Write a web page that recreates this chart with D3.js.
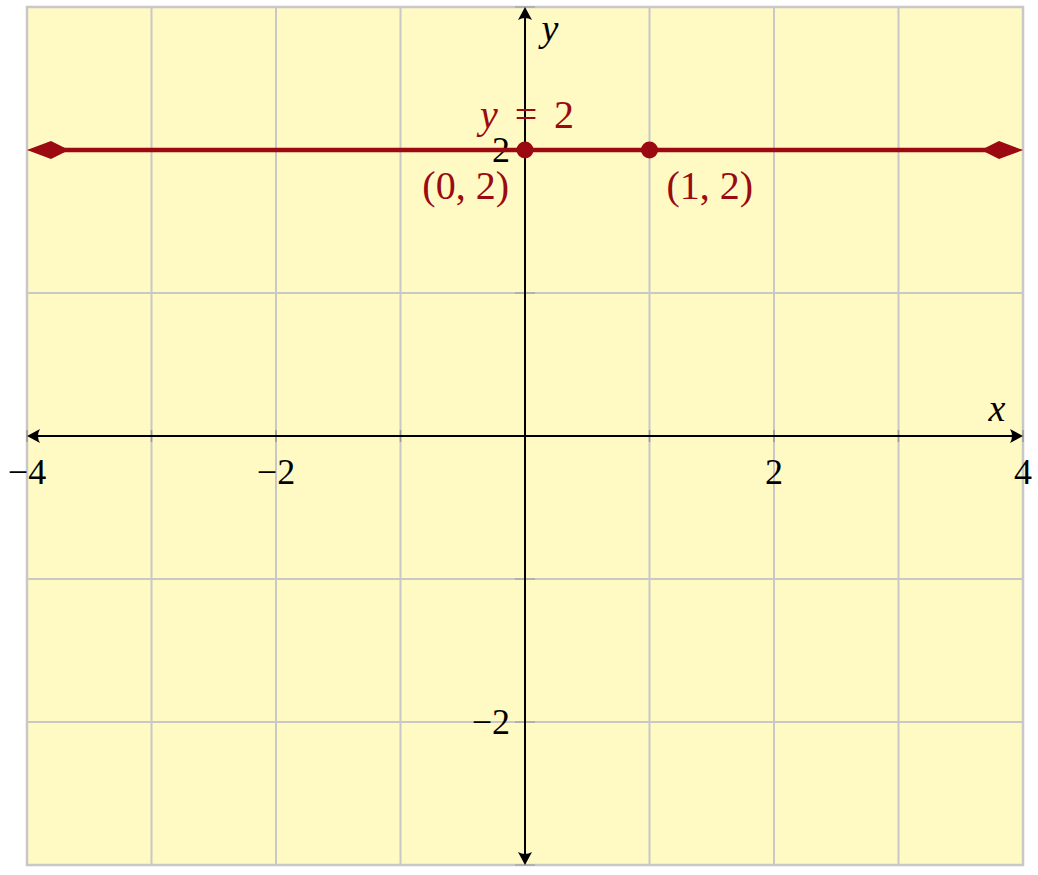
<!DOCTYPE html>
<html>
<head>
<meta charset="utf-8">
<script src="https://cdn.jsdelivr.net/npm/d3@7"></script>
<style>
html,body{margin:0;padding:0;background:#fff;}
svg{display:block;}
text{font-family:"Liberation Serif","DejaVu Serif",serif;}
</style>
</head>
<body>
<svg id="chart" width="1038" height="875"></svg>
<script>
// ---- data ----
const xDomain = [-4, 4];
const yDomain = [-3, 3];
const xGrid = [-3, -2, -1, 0, 1, 2, 3];
const yGrid = [-2, -1, 1, 2];
const xTickLabels = [-4, -2, 2, 4];
const yTickLabels = [2, -2];
const lineValue = 2;
const points = [[0, 2], [1, 2]];
const pointLabels = ["(0, 2)", "(1, 2)"];

const W = 1038, H = 875;
const x = d3.scaleLinear().domain(xDomain).range([27, 1023]);
const y = d3.scaleLinear().domain(yDomain).range([865, 7]);
const svg = d3.select("#chart");
const red = "#9a0a10";
const gray = "#c8c8c8";

// background
svg.append("rect").attr("x", x(-4)).attr("y", y(3)).attr("width", x(4) - x(-4)).attr("height", y(-3) - y(3))
  .attr("fill", "#fff9c4");

// grid
const g = svg.append("g");
g.selectAll(".vg").data(xGrid).join("line")
  .attr("x1", d => x(d)).attr("x2", d => x(d)).attr("y1", y(3)).attr("y2", y(-3))
  .attr("stroke", gray).attr("stroke-width", 2);
g.selectAll(".hg").data(yGrid).join("line")
  .attr("y1", d => y(d)).attr("y2", d => y(d)).attr("x1", x(-4)).attr("x2", x(4))
  .attr("stroke", gray).attr("stroke-width", 2);
// border
svg.append("rect").attr("x", x(-4)).attr("y", y(3)).attr("width", x(4) - x(-4)).attr("height", y(-3) - y(3))
  .attr("fill", "none").attr("stroke", gray).attr("stroke-width", 2.5);

// small ticks on axes
const allX = d3.range(xDomain[0], xDomain[1] + 1);
const allY = d3.range(yDomain[0], yDomain[1] + 1);
svg.selectAll(".xt").data(allX).join("line")
  .attr("x1", d => x(d)).attr("x2", d => x(d)).attr("y1", y(0) - 6).attr("y2", y(0) + 6)
  .attr("stroke", "#999").attr("stroke-width", 1.5);
svg.selectAll(".yt").data(allY).join("line")
  .attr("y1", d => y(d)).attr("y2", d => y(d)).attr("x1", x(0) - 10).attr("x2", x(0) + 10)
  .attr("stroke", "#aaa").attr("stroke-width", 1.5);

// axes with arrowheads
function axisArrow(tx, ty, angle) {
  svg.append("path")
    .attr("d", "M0,0 L-13,-7 Q-9,0 -13,7 Z")
    .attr("transform", `translate(${tx},${ty}) rotate(${angle})`)
    .attr("fill", "#000");
}
svg.append("line").attr("x1", x(-4) + 3).attr("x2", x(4) - 3).attr("y1", y(0)).attr("y2", y(0))
  .attr("stroke", "#000").attr("stroke-width", 2);
svg.append("line").attr("x1", x(0)).attr("x2", x(0)).attr("y1", y(3) + 3).attr("y2", y(-3) - 3)
  .attr("stroke", "#000").attr("stroke-width", 2);
axisArrow(x(4), y(0), 0);
axisArrow(x(-4), y(0), 180);
axisArrow(x(0), y(3), -90);
axisArrow(x(0), y(-3), 90);

// axis labels
svg.append("text").attr("x", 997).attr("y", 421).attr("text-anchor", "middle")
  .attr("font-style", "italic").attr("font-size", 38).text("x");
svg.append("text").attr("x", 550).attr("y", 41).attr("text-anchor", "middle")
  .attr("font-style", "italic").attr("font-size", 38).text("y");

// tick labels
const fmt = d => (d < 0 ? "\u2212" + Math.abs(d) : String(d));
svg.selectAll(".xl").data(xTickLabels).join("text")
  .attr("x", d => x(d)).attr("y", y(0) + 48).attr("text-anchor", "middle")
  .attr("font-size", 36).attr("fill", "#000").text(fmt);
svg.selectAll(".yl").data(yTickLabels).join("text")
  .attr("x", x(0) - 15).attr("y", d => y(d) + 12).attr("text-anchor", "end")
  .attr("font-size", 36).attr("fill", "#000").text(fmt);

// red line with arrowheads
svg.append("line").attr("x1", x(-4) + 20).attr("x2", x(4) - 20).attr("y1", y(lineValue)).attr("y2", y(lineValue))
  .attr("stroke", red).attr("stroke-width", 4.5);
function redArrow(tx, ty, angle) {
  svg.append("path")
    .attr("d", "M0,0 L-24,-9 L-38,-2 L-38,2 L-24,9 Z")
    .attr("transform", `translate(${tx},${ty}) rotate(${angle})`)
    .attr("fill", red);
}
redArrow(x(4), y(lineValue), 0);
redArrow(x(-4), y(lineValue), 180);

// points
svg.selectAll(".pt").data(points).join("circle")
  .attr("cx", d => x(d[0])).attr("cy", d => y(d[1])).attr("r", 8.5).attr("fill", red);

// equation label
const eq = svg.append("g").attr("fill", red).attr("font-size", 40);
eq.append("text").attr("x", x(0) - 36).attr("y", 128).attr("text-anchor", "middle")
  .attr("font-style", "italic").text("y");
eq.append("text").attr("x", x(0) + 1).attr("y", 128).attr("text-anchor", "middle").text("=");
eq.append("text").attr("x", x(0) + 39).attr("y", 128).attr("text-anchor", "middle").text("2");

svg.append("text").attr("x", x(points[0][0]) - 16).attr("y", 199).attr("text-anchor", "end")
  .attr("font-size", 40).attr("fill", red).text(pointLabels[0]);
svg.append("text").attr("x", x(points[1][0]) + 17).attr("y", 199).attr("text-anchor", "start")
  .attr("font-size", 40).attr("fill", red).text(pointLabels[1]);
</script>
</body>
</html>
